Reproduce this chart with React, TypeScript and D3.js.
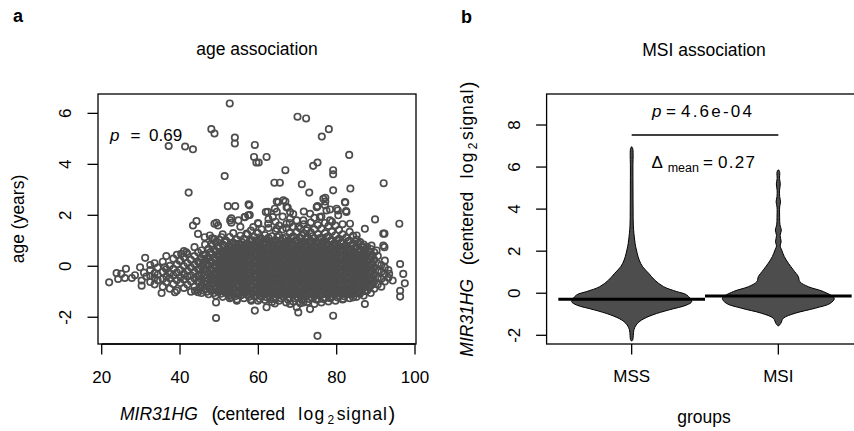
import React from 'react';
import * as d3 from 'd3';

// ---------- Panel a data (x = MIR31HG value, y = age value as plotted) ----------
const cloudColumns: [number, number[]][] = [
  [32.4, [-0.62, -0.38, -0.15, 0.05]],
  [33.5, [-0.71, -0.45, -0.28, 0.12]],
  [34.3, [-0.55, -0.33, -0.05]],
  [35.6, [-0.8, -0.5, -0.22, 0.18]],
  [36.5, [-0.62, -0.4, -0.12, 0.4]],
  [37.4, [-0.88, -0.47, -0.28, 0.02]],
  [38.3, [-0.7, -0.36, -0.1, 0.3]],
  [39.2, [-0.95, -0.55, -0.25, 0.08, 0.45]],
  [40.1, [-0.66, -0.42, -0.15, 0.22]],
  [41.0, [-0.85, -0.52, -0.3, 0.0, 0.35, 0.6]],
  [41.9, [-0.72, -0.4, -0.18, 0.12, 0.48]],
  [42.8, [-1.0, -0.6, -0.35, -0.05, 0.25]],
  [43.7, [-0.8, -0.48, -0.22, 0.08, 0.4, 0.75]],
  [44.6, [-0.92, -0.62, -0.38, -0.12, 0.18, 0.55]],
  [45.5, [-1.05, -0.75, -0.5, -0.28, 0.0, 0.3, 0.62]],
  [46.4, [-0.88, -0.58, -0.35, -0.1, 0.2, 0.45, 0.85]],
  [47.3, [-1.1, -0.8, -0.52, -0.25, 0.05, 0.35, 0.7]],
  [48.2, [-0.95, -0.68, -0.42, -0.15, 0.15, 0.48, 0.8, 1.1]],
  [49.1, [-1.15, -0.85, -0.58, -0.32, -0.05, 0.25, 0.6, 0.95]],
  [50.0, [-1.0, -0.72, -0.45, -0.2, 0.1, 0.38, 0.7, 1.05]],
  [50.9, [-1.2, -0.9, -0.62, -0.35, -0.08, 0.2, 0.52, 0.85, 1.25]],
  [51.8, [-1.05, -0.78, -0.5, -0.22, 0.05, 0.32, 0.65, 1.0]],
  [52.7, [-1.25, -0.95, -0.68, -0.4, -0.12, 0.18, 0.48, 0.8, 1.15]],
  [53.6, [-1.1, -0.82, -0.55, -0.28, 0.0, 0.28, 0.6, 0.92, 1.3]],
  [54.5, [-1.3, -1.0, -0.72, -0.45, -0.18, 0.1, 0.4, 0.72, 1.05]],
  [55.4, [-1.15, -0.88, -0.6, -0.32, -0.05, 0.22, 0.52, 0.85, 1.2, 1.55]],
  [56.3, [-1.25, -0.98, -0.7, -0.42, -0.15, 0.12, 0.42, 0.75, 1.08]],
  [57.2, [-1.12, -0.85, -0.58, -0.3, -0.02, 0.25, 0.55, 0.88, 1.25]],
  [58.1, [-1.3, -1.02, -0.75, -0.48, -0.2, 0.08, 0.38, 0.68, 1.0, 1.4]],
  [59.0, [-1.18, -0.9, -0.62, -0.35, -0.08, 0.2, 0.5, 0.82, 1.15]],
  [59.9, [-1.35, -1.05, -0.78, -0.5, -0.22, 0.05, 0.32, 0.62, 0.95, 1.3, 1.7]],
  [60.8, [-1.2, -0.92, -0.65, -0.38, -0.1, 0.18, 0.45, 0.75, 1.08, 1.45]],
  [61.7, [-1.32, -1.05, -0.78, -0.52, -0.25, 0.02, 0.3, 0.58, 0.9, 1.22]],
  [62.6, [-1.15, -0.88, -0.6, -0.32, -0.05, 0.22, 0.5, 0.8, 1.12, 1.5, 1.85]],
  [63.5, [-1.4, -1.1, -0.82, -0.55, -0.28, 0.0, 0.28, 0.55, 0.85, 1.18]],
  [64.4, [-1.22, -0.95, -0.68, -0.4, -0.12, 0.15, 0.42, 0.7, 1.02, 1.38, 1.75]],
  [65.3, [-1.35, -1.08, -0.8, -0.52, -0.25, 0.02, 0.3, 0.58, 0.88, 1.2, 1.6]],
  [66.2, [-1.18, -0.9, -0.62, -0.35, -0.08, 0.2, 0.48, 0.78, 1.1, 1.45, 1.95]],
  [67.1, [-1.42, -1.12, -0.85, -0.58, -0.3, -0.02, 0.25, 0.52, 0.82, 1.15, 1.5]],
  [68.0, [-1.25, -0.98, -0.7, -0.42, -0.15, 0.12, 0.4, 0.68, 0.98, 1.3, 1.7]],
  [68.9, [-1.38, -1.1, -0.82, -0.55, -0.28, 0.0, 0.28, 0.55, 0.85, 1.18, 1.55, 2.05]],
  [69.8, [-1.2, -0.92, -0.65, -0.38, -0.1, 0.18, 0.45, 0.72, 1.02, 1.35, 1.8]],
  [70.7, [-1.45, -1.15, -0.88, -0.6, -0.32, -0.05, 0.22, 0.5, 0.8, 1.12, 1.48]],
  [71.6, [-1.28, -1.0, -0.72, -0.45, -0.18, 0.1, 0.38, 0.65, 0.95, 1.28, 1.65, 2.15]],
  [72.5, [-1.4, -1.12, -0.85, -0.58, -0.3, -0.02, 0.25, 0.52, 0.82, 1.15, 1.5]],
  [73.4, [-1.22, -0.95, -0.68, -0.4, -0.12, 0.15, 0.42, 0.7, 1.0, 1.32, 1.72]],
  [74.3, [-1.48, -1.18, -0.9, -0.62, -0.35, -0.08, 0.2, 0.48, 0.78, 1.1, 1.45, 1.9]],
  [75.2, [-1.3, -1.02, -0.75, -0.48, -0.2, 0.08, 0.35, 0.62, 0.92, 1.25, 1.62]],
  [76.1, [-1.42, -1.12, -0.85, -0.58, -0.3, -0.02, 0.25, 0.52, 0.82, 1.12, 1.48, 1.95]],
  [77.0, [-1.25, -0.98, -0.7, -0.42, -0.15, 0.12, 0.4, 0.68, 0.98, 1.3, 1.7]],
  [77.9, [-1.38, -1.1, -0.82, -0.55, -0.28, 0.0, 0.28, 0.55, 0.85, 1.18, 1.58]],
  [78.8, [-1.2, -0.92, -0.65, -0.38, -0.1, 0.18, 0.45, 0.72, 1.02, 1.35, 1.75]],
  [79.7, [-1.35, -1.05, -0.78, -0.5, -0.22, 0.05, 0.32, 0.6, 0.9, 1.22, 1.6]],
  [80.6, [-1.18, -0.9, -0.62, -0.35, -0.08, 0.2, 0.48, 0.78, 1.08, 1.42]],
  [81.5, [-1.3, -1.02, -0.75, -0.48, -0.2, 0.08, 0.35, 0.62, 0.92, 1.25, 1.65]],
  [82.4, [-1.12, -0.85, -0.58, -0.3, -0.02, 0.25, 0.52, 0.82, 1.12]],
  [83.3, [-1.25, -0.98, -0.7, -0.42, -0.15, 0.12, 0.4, 0.68, 1.0, 1.35]],
  [84.2, [-1.08, -0.8, -0.52, -0.25, 0.02, 0.3, 0.58, 0.88, 1.2]],
  [85.1, [-1.2, -0.92, -0.65, -0.38, -0.1, 0.18, 0.45, 0.75, 1.05]],
  [86.0, [-1.02, -0.75, -0.48, -0.2, 0.08, 0.35, 0.62, 0.95]],
  [86.9, [-1.15, -0.85, -0.58, -0.3, -0.02, 0.25, 0.55, 0.85]],
  [87.8, [-0.95, -0.68, -0.4, -0.12, 0.15, 0.45, 0.75]],
  [88.7, [-1.05, -0.75, -0.48, -0.2, 0.08, 0.38, 0.68]],
  [89.6, [-0.88, -0.6, -0.32, -0.05, 0.25, 0.55]],
  [90.5, [-0.72, -0.45, -0.18, 0.1, 0.4]],
  [91.4, [-0.8, -0.5, -0.22, 0.05]],
  [92.3, [-0.6, -0.3, -0.05, 0.22]],
  [93.2, [-0.45, -0.15]],
];

// second, interleaved layer of the dense core
const coreColumns: [number, number[]][] = [
  [45.0, [-0.88, -0.62, -0.38, -0.12, 0.15]],
  [45.95, [-0.95, -0.65, -0.4, -0.15, 0.12, 0.45]],
  [46.85, [-1.0, -0.7, -0.45, -0.2, 0.08, 0.32]],
  [47.75, [-0.92, -0.66, -0.38, -0.1, 0.2, 0.55]],
  [48.65, [-1.05, -0.78, -0.52, -0.28, 0.02, 0.32, 0.65]],
  [49.55, [-0.98, -0.7, -0.45, -0.18, 0.12, 0.42, 0.78]],
  [50.45, [-1.08, -0.82, -0.58, -0.32, -0.05, 0.25, 0.55]],
  [51.35, [-0.95, -0.68, -0.38, -0.1, 0.18, 0.48, 0.8]],
  [52.25, [-1.1, -0.82, -0.55, -0.28, 0.02, 0.32, 0.62]],
  [53.15, [-1.0, -0.7, -0.42, -0.15, 0.15, 0.45, 0.75]],
  [54.05, [-1.18, -0.88, -0.6, -0.32, -0.05, 0.25, 0.55, 0.88]],
  [54.95, [-1.02, -0.75, -0.48, -0.2, 0.08, 0.38, 0.68]],
  [55.85, [-1.12, -0.85, -0.55, -0.28, 0.0, 0.3, 0.6, 0.95]],
  [56.75, [-0.98, -0.72, -0.45, -0.18, 0.1, 0.4, 0.72]],
  [57.65, [-1.2, -0.92, -0.62, -0.35, -0.08, 0.22, 0.52, 0.82]],
  [58.55, [-1.05, -0.78, -0.5, -0.22, 0.05, 0.35, 0.65, 1.02]],
  [59.45, [-1.15, -0.88, -0.62, -0.35, -0.08, 0.2, 0.48, 0.78]],
  [60.35, [-1.28, -1.0, -0.72, -0.45, -0.18, 0.1, 0.38, 0.68, 1.0]],
  [61.25, [-1.1, -0.82, -0.55, -0.28, 0.0, 0.28, 0.58, 0.88]],
  [62.15, [-1.22, -0.95, -0.68, -0.4, -0.12, 0.15, 0.42, 0.72, 1.05]],
  [63.05, [-1.05, -0.78, -0.5, -0.22, 0.08, 0.35, 0.65, 0.98]],
  [63.95, [-1.28, -1.0, -0.72, -0.45, -0.18, 0.1, 0.38, 0.68, 1.0]],
  [64.85, [-1.12, -0.85, -0.58, -0.3, -0.02, 0.25, 0.55, 0.85, 1.15]],
  [65.75, [-1.25, -0.98, -0.7, -0.42, -0.15, 0.12, 0.4, 0.7, 1.0]],
  [66.65, [-1.08, -0.8, -0.52, -0.25, 0.05, 0.32, 0.62, 0.92]],
  [67.55, [-1.3, -1.02, -0.75, -0.48, -0.2, 0.08, 0.38, 0.68, 1.0]],
  [68.45, [-1.12, -0.85, -0.58, -0.3, -0.02, 0.25, 0.55, 0.85, 1.12]],
  [69.35, [-1.25, -0.98, -0.7, -0.42, -0.15, 0.12, 0.4, 0.7, 1.0]],
  [70.25, [-1.05, -0.78, -0.5, -0.22, 0.05, 0.32, 0.62, 0.92]],
  [71.15, [-1.32, -1.05, -0.78, -0.5, -0.22, 0.05, 0.32, 0.6, 0.9, 1.2]],
  [72.05, [-1.15, -0.88, -0.6, -0.32, -0.05, 0.22, 0.5, 0.8, 1.08]],
  [72.95, [-1.28, -1.0, -0.72, -0.45, -0.18, 0.1, 0.38, 0.68, 0.98]],
  [73.85, [-1.08, -0.8, -0.52, -0.25, 0.02, 0.3, 0.58, 0.88, 1.18]],
  [74.75, [-1.3, -1.02, -0.75, -0.48, -0.2, 0.08, 0.35, 0.65, 0.95]],
  [75.65, [-1.15, -0.88, -0.6, -0.32, -0.05, 0.22, 0.5, 0.8, 1.1]],
  [76.55, [-1.28, -1.0, -0.72, -0.45, -0.18, 0.1, 0.38, 0.68, 0.98]],
  [77.45, [-1.1, -0.82, -0.55, -0.28, 0.0, 0.28, 0.55, 0.85, 1.15]],
  [78.35, [-1.25, -0.98, -0.7, -0.42, -0.15, 0.12, 0.4, 0.7, 1.0]],
  [79.25, [-1.08, -0.8, -0.52, -0.25, 0.02, 0.3, 0.58, 0.88]],
  [80.15, [-1.22, -0.95, -0.68, -0.4, -0.12, 0.15, 0.42, 0.72, 1.02]],
  [81.05, [-1.05, -0.78, -0.5, -0.22, 0.05, 0.32, 0.62, 0.92]],
  [81.95, [-1.18, -0.9, -0.62, -0.35, -0.08, 0.2, 0.48, 0.78]],
  [82.85, [-1.0, -0.72, -0.45, -0.18, 0.1, 0.38, 0.68, 0.98]],
  [83.75, [-1.12, -0.85, -0.58, -0.3, -0.02, 0.25, 0.52, 0.82]],
  [84.65, [-0.95, -0.68, -0.4, -0.12, 0.15, 0.42, 0.72]],
  [85.55, [-1.05, -0.78, -0.5, -0.22, 0.05, 0.32, 0.62, 0.9]],
  [86.45, [-0.9, -0.62, -0.35, -0.08, 0.2, 0.48, 0.78]],
  [87.35, [-0.98, -0.7, -0.42, -0.15, 0.12, 0.4, 0.68]],
  [88.25, [-0.82, -0.55, -0.28, 0.0, 0.28, 0.55]],
  [89.15, [-0.72, -0.45, -0.18, 0.1, 0.38]],
];

// third layer filling the darkest part of the cloud
const denseColumns: [number, number[]][] = [
  [50.3, [-0.9, -0.61, -0.34, -0.07, 0.2, 0.47]],
  [51.2, [-1.0, -0.74, -0.47, -0.2, 0.07, 0.34, 0.61]],
  [52.1, [-0.88, -0.6, -0.33, -0.06, 0.21, 0.48]],
  [53.0, [-1.02, -0.75, -0.48, -0.21, 0.06, 0.33, 0.6]],
  [53.9, [-0.9, -0.62, -0.35, -0.08, 0.19, 0.46, 0.73]],
  [54.8, [-1.04, -0.76, -0.49, -0.22, 0.05, 0.32, 0.6, 0.88]],
  [55.7, [-0.92, -0.64, -0.37, -0.1, 0.17, 0.44, 0.71]],
  [56.6, [-1.05, -0.77, -0.5, -0.23, 0.04, 0.31, 0.58, 0.86]],
  [57.5, [-0.93, -0.65, -0.38, -0.11, 0.16, 0.43, 0.7]],
  [58.4, [-1.06, -0.78, -0.51, -0.24, 0.03, 0.3, 0.57, 0.85]],
  [59.3, [-0.94, -0.66, -0.39, -0.12, 0.15, 0.42, 0.69, 0.96]],
  [60.2, [-1.07, -0.79, -0.52, -0.25, 0.02, 0.29, 0.56, 0.84]],
  [61.1, [-0.95, -0.67, -0.4, -0.13, 0.14, 0.41, 0.68, 0.95]],
  [62.0, [-1.08, -0.8, -0.53, -0.26, 0.01, 0.28, 0.55, 0.83]],
  [62.9, [-0.96, -0.68, -0.41, -0.14, 0.13, 0.4, 0.67, 0.94]],
  [63.8, [-1.09, -0.81, -0.54, -0.27, 0.0, 0.27, 0.54, 0.82]],
  [64.7, [-0.97, -0.69, -0.42, -0.15, 0.12, 0.39, 0.66, 0.93]],
  [65.6, [-1.1, -0.82, -0.55, -0.28, -0.01, 0.26, 0.53, 0.81]],
  [66.5, [-0.98, -0.7, -0.43, -0.16, 0.11, 0.38, 0.65, 0.92]],
  [67.4, [-1.1, -0.83, -0.56, -0.29, -0.02, 0.25, 0.52, 0.8]],
  [68.3, [-0.98, -0.71, -0.44, -0.17, 0.1, 0.37, 0.64, 0.91]],
  [69.2, [-1.11, -0.84, -0.57, -0.3, -0.03, 0.24, 0.51, 0.79]],
  [70.1, [-0.99, -0.72, -0.45, -0.18, 0.09, 0.36, 0.63, 0.9]],
  [71.0, [-1.12, -0.85, -0.58, -0.31, -0.04, 0.23, 0.5, 0.78]],
  [71.9, [-1.0, -0.73, -0.46, -0.19, 0.08, 0.35, 0.62, 0.89]],
  [72.8, [-1.12, -0.85, -0.58, -0.31, -0.04, 0.23, 0.5, 0.77]],
  [73.7, [-1.0, -0.73, -0.46, -0.19, 0.08, 0.35, 0.62, 0.89]],
  [74.6, [-1.11, -0.84, -0.57, -0.3, -0.03, 0.24, 0.51, 0.78]],
  [75.5, [-0.99, -0.72, -0.45, -0.18, 0.09, 0.36, 0.63, 0.9]],
  [76.4, [-1.1, -0.83, -0.56, -0.29, -0.02, 0.25, 0.52, 0.79]],
  [77.3, [-0.98, -0.71, -0.44, -0.17, 0.1, 0.37, 0.64, 0.9]],
  [78.2, [-1.09, -0.82, -0.55, -0.28, -0.01, 0.26, 0.53, 0.8]],
  [79.1, [-0.97, -0.7, -0.43, -0.16, 0.11, 0.38, 0.65]],
  [80.0, [-1.07, -0.8, -0.53, -0.26, 0.01, 0.28, 0.55, 0.82]],
  [80.9, [-0.95, -0.68, -0.41, -0.14, 0.13, 0.4, 0.67]],
  [81.8, [-1.05, -0.78, -0.51, -0.24, 0.03, 0.3, 0.57]],
  [82.7, [-0.93, -0.66, -0.39, -0.12, 0.15, 0.42, 0.69]],
  [83.6, [-1.02, -0.75, -0.48, -0.21, 0.06, 0.33, 0.6]],
  [84.5, [-0.9, -0.63, -0.36, -0.09, 0.18, 0.45]],
  [85.4, [-0.98, -0.71, -0.44, -0.17, 0.1, 0.37]],
  [86.3, [-0.85, -0.58, -0.31, -0.04, 0.23]],
  [87.2, [-0.75, -0.48, -0.21, 0.06, 0.33]],
];

const fringePoints: [number, number][] = [
  [52.7, 6.39], [48.0, 5.38], [48.8, 5.21], [54.0, 5.05], [54.0, 4.82], [37.1, 4.72], [41.3, 4.7], [43.3, 4.59],
  [59.1, 4.76], [58.9, 4.29], [59.5, 4.07], [51.4, 3.54], [42.2, 2.89], [52.2, 2.36], [54.1, 2.36], [57.5, 2.43],
  [57.8, 2.01], [53.1, 1.88], [53.1, 1.71], [44.2, 1.77], [49.3, 1.71], [56.5, 1.93],
  [70.0, 5.87], [72.2, 5.8], [78.0, 5.38], [76.2, 5.09], [62.1, 4.29], [60.1, 4.07], [83.2, 4.37], [75.1, 4.07],
  [74.0, 3.94], [79.1, 3.77], [79.1, 3.61], [66.9, 3.77], [64.1, 3.28], [65.5, 3.28], [71.1, 3.22], [73.0, 2.89],
  [79.1, 2.98], [83.5, 3.05], [92.0, 3.26], [77.1, 2.69], [77.1, 2.54], [82.2, 2.5], [75.1, 2.36], [64.7, 2.54],
  [66.9, 2.54], [67.5, 2.3], [62.4, 2.14], [64.7, 2.14], [80.3, 2.19], [82.4, 2.17], [78.3, 2.23], [89.8, 1.84], [96.0, 1.67],
  [91.9, 1.28], [91.9, 0.81], [96.2, 0.09], [97.0, -0.3], [97.4, -0.67], [96.2, -0.96], [96.2, -1.19], [93.4, -0.3], [94.3, -0.56],
  [87.2, -1.48], [79.1, -1.94], [75.1, -2.73], [49.2, -2.03], [49.2, -1.42], [59.1, -1.74], [62.1, -1.61], [64.2, -1.46],
  [70.2, -1.81], [73.2, -1.68], [54.5, -1.35], [52.8, -1.15], [68.1, -1.48], [69.8, -1.61], [71.5, -1.42], [78.3, -1.22],
  [81.7, -1.28], [84.2, -1.22], [85.9, -1.09], [63.0, -1.28], [53.6, -1.02], [43.8, -0.96], [38.7, -1.02], [35.3, -1.05],
  [58.2, -1.35], [44.6, -1.02], [53.1, -1.22],
  [21.9, -0.63], [23.8, -0.27], [24.2, -0.5], [25.9, -0.46], [26.2, -0.1], [27.7, -0.46], [25.0, -0.3], [28.5, -0.35],
  [29.8, -0.04], [30.2, -0.56], [30.2, -0.76], [31.1, 0.33], [30.8, -0.25], [31.4, -0.4], [36.1, -0.04], [40.3, 0.49],
  [41.6, 0.55], [39.9, 0.22],
  [43.3, 1.6], [44.6, 1.27], [46.3, 1.14], [48.8, 1.67], [49.7, 1.6], [48.0, 0.88], [51.4, 0.95], [53.1, 0.88],
  [65.1, 2.52], [66.4, 2.59], [67.2, 2.32], [68.1, 2.13], [64.2, 2.26], [61.9, 2.13], [63.7, 1.93], [68.1, 1.87],
  [67.2, 1.67], [57.4, 2.0], [56.6, 1.93], [57.7, 2.39], [54.9, 1.8], [47.6, 1.21], [76.6, 2.65], [77.0, 2.39],
  [77.4, 2.19], [80.0, 2.26], [82.5, 2.13], [80.4, 2.0], [82.1, 2.52], [74.9, 2.32], [73.2, 2.06], [75.7, 1.93],
  [78.3, 1.8], [83.4, 1.67], [85.1, 1.21], [87.2, 1.47], [88.9, 0.81], [86.8, 0.75], [90.2, 0.62], [71.5, 1.8],
  [70.2, 1.54], [72.3, 1.41], [62.5, 1.67], [64.7, 1.47], [60.0, 1.67], [60.4, 1.14], [58.7, 1.54], [57.0, 1.28],
  [92.2, 1.28], [92.2, 0.75], [52.8, 1.8], [48.7, 1.08], [50.6, 1.14],
];

const xTicksA = [20, 40, 60, 80, 100];
const yTicksA = [-2, 0, 2, 4, 6];

// ---------- Panel b data ----------
const groups = ['MSS', 'MSI'];
const groupMeans = [-0.29, -0.13];
const yTicksB = [-2, 0, 2, 4, 6, 8];
// [value, relative density (1 = widest bean)]
const mssDensity: [number, number][] = [
  [6.96, 0.005], [6.85, 0.02], [6.0, 0.021], [5.0, 0.022], [4.0, 0.024], [3.2, 0.028], [2.53, 0.05],
  [2.21, 0.067], [1.9, 0.092], [1.58, 0.125], [1.26, 0.183], [0.95, 0.283], [0.63, 0.383], [0.31, 0.533],
  [0.08, 0.75], [-0.08, 0.917], [-0.4, 1.0], [-0.56, 0.917], [-0.79, 0.625], [-1.03, 0.35], [-1.27, 0.167],
  [-1.51, 0.075], [-1.74, 0.037], [-2.0, 0.027], [-2.2, 0.02], [-2.27, 0.005],
];
const msiDensity: [number, number][] = [
  [5.86, 0.008], [5.75, 0.023], [5.45, 0.02], [5.2, 0.033], [4.9, 0.02], [4.6, 0.022], [4.35, 0.037],
  [4.1, 0.022], [3.6, 0.022], [3.25, 0.027], [3.0, 0.05], [2.75, 0.03], [2.45, 0.047], [2.25, 0.03],
  [2.06, 0.055], [1.74, 0.1], [1.43, 0.167], [1.11, 0.25], [0.79, 0.333], [0.55, 0.358], [0.31, 0.5],
  [0.08, 0.75], [-0.24, 0.933], [-0.48, 0.867], [-0.71, 0.617], [-0.95, 0.283], [-1.19, 0.083],
  [-1.43, 0.042], [-1.55, 0.008],
];
const beanDensities = [mssDensity, msiDensity];

const FONT = "'Liberation Sans', Arial, Helvetica, sans-serif";
const PT_COLOR = '#4d4d4d';

const flatten = (cols: [number, number[]][]) =>
  cols.flatMap(([x, ys]) => ys.map((y) => [x, y] as [number, number]));

const scatterPoints: [number, number][] = [
  ...flatten(cloudColumns),
  ...flatten(coreColumns),
  ...flatten(denseColumns),
  ...fringePoints,
];

// label pieces for "MIR31HG (centered log2signal)"; offsets relative to label start
function MirLabel() {
  return (
    <>
      <text x={0} y={0} fontStyle="italic" fontSize={17.5}>MIR31HG</text>
      <text x={91.5} y={1.5} fontSize={20}>(</text>
      <text x={96.7} y={0} fontSize={17.5} textLength={68.3}>centered</text>
      <text x={178.3} y={0} fontSize={17.5} textLength={26}>log</text>
      <text x={207.5} y={4} fontSize={12}>2</text>
      <text x={216.7} y={0} fontSize={17.5} textLength={50.3}>signal</text>
      <text x={268.5} y={1.5} fontSize={20}>)</text>
    </>
  );
}

export default function App() {
  // Panel a scales
  const xA = d3.scaleLinear().domain([19.055, 100.255]).range([98, 416]);
  const yA = d3.scaleLinear().domain([-3.05, 6.76]).range([344, 94]);
  // Panel b scales
  const xB = d3.scaleLinear().domain([0.42, 2.58]).range([546.6, 863.4]);
  const yB = d3.scaleLinear().domain([-2.414, 9.474]).range([344, 94]);
  const beanHalf = 0.409; // half width in category units for density 1

  const tick = 10.5;

  return (
    <svg
      width={854}
      height={431}
      style={{ position: 'absolute', left: 0, top: 0, background: '#fff' }}
      fontFamily={FONT}
    >
      <rect x={0} y={0} width={854} height={431} fill="#fff" />

      {/* ---------------- Panel a ---------------- */}
      <text x={13} y={22} fontSize={18} fontWeight="bold">a</text>
      <text x={257} y={55} fontSize={17.5} textAnchor="middle">age association</text>

      <g>
        {scatterPoints.map(([x, y], i) => (
          <circle key={i} cx={xA(x)} cy={yA(y)} r={3.2} fill="none" stroke={PT_COLOR} strokeWidth={1.7} />
        ))}
      </g>

      <rect x={98} y={94} width={318} height={250} fill="none" stroke="#000" strokeWidth={1.3} />

      {xTicksA.map((t) => (
        <g key={t}>
          <line x1={xA(t)} x2={xA(t)} y1={344} y2={344 + tick} stroke="#000" strokeWidth={1.3} />
          <text x={xA(t)} y={382.5} fontSize={17} textAnchor="middle">{t}</text>
        </g>
      ))}
      <line x1={xA(20)} x2={xA(100)} y1={344} y2={344} stroke="#000" strokeWidth={1.3} />
      {yTicksA.map((t) => (
        <g key={t}>
          <line x1={98 - tick} x2={98} y1={yA(t)} y2={yA(t)} stroke="#000" strokeWidth={1.3} />
          <text transform={`translate(71,${yA(t)}) rotate(-90)`} fontSize={17} textAnchor="middle">{t}</text>
        </g>
      ))}

      <text x={110} y={140.7} fontSize={17} fontStyle="italic">p</text>
      <text x={130.5} y={140.7} fontSize={17}>=</text>
      <text x={149} y={140.7} fontSize={17}>0.69</text>

      <g transform="translate(120,419.5)">
        <MirLabel />
      </g>
      <text transform="translate(24,219) rotate(-90)" fontSize={17.5} textAnchor="middle">age (years)</text>

      {/* ---------------- Panel b ---------------- */}
      <text x={461} y={22.5} fontSize={18} fontWeight="bold">b</text>
      <text x={704} y={56} fontSize={17.5} textAnchor="middle">MSI association</text>

      <defs>
        <clipPath id="clipB">
          <rect x={546.6} y={94} width={320} height={250} />
        </clipPath>
      </defs>

      <g clipPath="url(#clipB)">
        {groups.map((g, gi) => {
          const c = gi + 1;
          const area = d3
            .area<[number, number]>()
            .y((d) => yB(d[0]))
            .x0((d) => xB(c - d[1] * beanHalf))
            .x1((d) => xB(c + d[1] * beanHalf))
            .curve(d3.curveCatmullRom.alpha(0.5));
          return (
            <path key={g} d={area(beanDensities[gi]) || ''} fill="#4d4d4d" stroke="#000" strokeWidth={1} />
          );
        })}
        {groups.map((g, gi) => (
          <line
            key={g + 'm'}
            x1={xB(gi + 1 - 0.5)}
            x2={xB(gi + 1 + 0.5)}
            y1={yB(groupMeans[gi])}
            y2={yB(groupMeans[gi])}
            stroke="#000"
            strokeWidth={3}
          />
        ))}
      </g>

      <rect x={546.6} y={94} width={316.8} height={250} fill="none" stroke="#000" strokeWidth={1.3} />

      {groups.map((g, gi) => (
        <g key={g}>
          <line x1={xB(gi + 1)} x2={xB(gi + 1)} y1={344} y2={344 + tick} stroke="#000" strokeWidth={1.3} />
          <text x={xB(gi + 1)} y={381.7} fontSize={17} textAnchor="middle">{g}</text>
        </g>
      ))}
      {yTicksB.map((t) => (
        <g key={t}>
          <line x1={546.6 - tick} x2={546.6} y1={yB(t)} y2={yB(t)} stroke="#000" strokeWidth={1.3} />
          <text transform={`translate(520,${yB(t)}) rotate(-90)`} fontSize={17} textAnchor="middle">{t}</text>
        </g>
      ))}

      <text x={652} y={117.3} fontSize={17} fontStyle="italic">p</text>
      <text x={666} y={117.3} fontSize={17}>=</text>
      <text x={681} y={117.3} fontSize={17} textLength={71}>4.6e-04</text>
      <line x1={xB(1)} x2={xB(2)} y1={135} y2={135} stroke="#000" strokeWidth={1.3} />

      <text x={651.5} y={168.3} fontSize={17}>Δ</text>
      <text x={667.7} y={172} fontSize={12.5}>mean</text>
      <text x={703} y={168.3} fontSize={17}>=</text>
      <text x={718} y={168.3} fontSize={17} textLength={37}>0.27</text>

      <g transform="translate(473.3,356.7) rotate(-90)">
        <MirLabel />
      </g>
      <text x={704} y={422.5} fontSize={17.5} textAnchor="middle">groups</text>
    </svg>
  );
}
